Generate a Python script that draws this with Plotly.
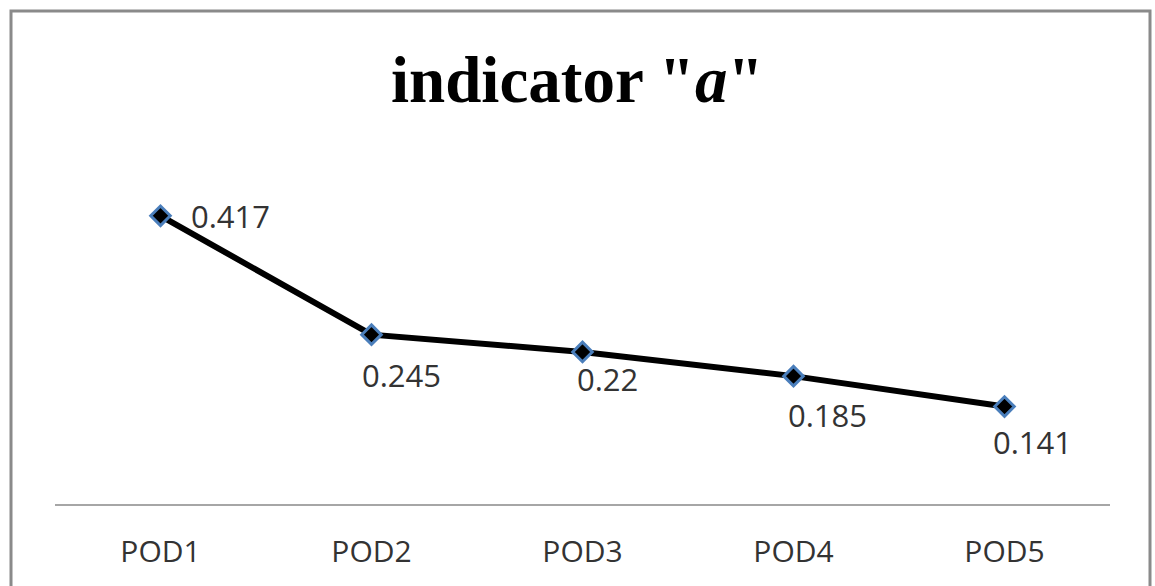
import plotly.graph_objects as go

categories = ["POD1", "POD2", "POD3", "POD4", "POD5"]
values = [0.417, 0.245, 0.22, 0.185, 0.141]
label_texts = ["0.417", "0.245", "0.22", "0.185", "0.141"]

W, H = 1155, 586
ML, MR, MT, MB = 55, 45, 193, 82
PW, PH = W - ML - MR, H - MT - MB

# label placement (pixel shifts) – style, not data
label_shift = [(28, 0, "left"), (-12, -40, "left"), (-8, -27, "left"),
               (-8, -39, "left"), (-14, -35, "left")]


def px_x(p):
    return (p - ML) / PW


def px_y(p):
    return (H - MB - p) / PH


fig = go.Figure()
fig.add_trace(go.Scatter(
    x=categories, y=values, mode="lines+markers",
    line=dict(color="black", width=6),
    marker=dict(symbol="diamond", size=15, color="black",
                line=dict(color="#4A7EBB", width=3)),
    showlegend=False, hoverinfo="skip"))

for c, v, t, (dx, dy, anc) in zip(categories, values, label_texts, label_shift):
    fig.add_annotation(x=c, y=v, xref="x", yref="y", text=t, showarrow=False,
                       xanchor=anc, yanchor="middle", xshift=dx, yshift=dy,
                       font=dict(family="Open Sans", size=31, color="#333333"))

fig.add_annotation(x=px_x(577.5), y=px_y(80), xref="paper", yref="paper",
                   text='indicator "<i>a</i>"', showarrow=False,
                   xanchor="center", yanchor="middle",
                   font=dict(family="Liberation Serif", size=65, color="black",
                             weight="bold"))

# outer chart border
fig.add_shape(type="rect", xref="paper", yref="paper",
              x0=px_x(11), x1=px_x(1150), y0=px_y(600), y1=px_y(11),
              line=dict(color="#8A8A8A", width=3), fillcolor="rgba(0,0,0,0)",
              layer="below")

fig.update_layout(
    width=W, height=H,
    margin=dict(l=ML, r=MR, t=MT, b=MB),
    paper_bgcolor="white", plot_bgcolor="white",
    xaxis=dict(type="category", range=[-0.5, 4.5], showgrid=False,
               zeroline=False, showline=True, linecolor="#A6A6A6", linewidth=2,
               ticks="", ticklabelstandoff=20,
               tickfont=dict(family="Open Sans", size=30, color="#333333")),
    yaxis=dict(range=[0, 0.45], visible=False, showgrid=False),
)

fig.write_html("out.html")
